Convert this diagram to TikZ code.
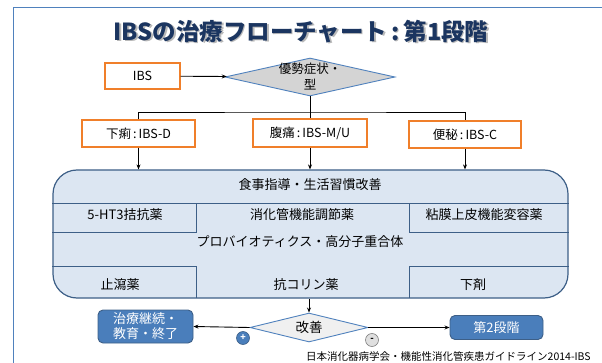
\documentclass[tikz,border=0pt]{standalone}
\usepackage{fontspec}
\setmainfont{Noto Sans CJK JP}
\usetikzlibrary{shapes.geometric,arrows.meta}
\definecolor{frameblue}{HTML}{4F81BD}
\definecolor{orangeb}{HTML}{F07F2A}
\definecolor{diagray}{HTML}{D4D4D4}
\definecolor{bigfill}{HTML}{DCE6F2}
\definecolor{bigline}{HTML}{3D5F87}
\definecolor{titlecol}{HTML}{1B3560}
\definecolor{btnblue}{HTML}{4A7EBB}
\tikzset{
  obox/.style={draw=orangeb, line width=1.2pt, fill=white, inner sep=0pt, font=\fontsize{12.5}{14}\selectfont},
  arr/.style={-{Stealth[length=5pt,width=4pt]}, line width=0.9pt},
  ln/.style={line width=0.9pt},
  cell/.style={bigline, line width=0.8pt},
  intext/.style={font=\fontsize{13}{15}\selectfont, inner sep=0pt},
  bbox/.style={draw=bigline, fill=btnblue, rounded corners=5pt, text=white, line width=0.9pt, inner sep=0pt, font=\fontsize{13}{15}\selectfont, align=center}
}
\begin{document}
\begin{tikzpicture}[x=1pt,y=-1pt]
\useasboundingbox (0,0) rectangle (602,363);
% frame
\draw[frameblue, line width=0.9pt] (13,363) -- (13,7) -- (602,7);
% title
\node[text=gray!55, font=\fontsize{23.5}{26}\selectfont\bfseries, inner sep=0pt] at (302.5,33) {IBSの治療フローチャート\,:\,第1段階};
\node[text=titlecol, font=\fontsize{23.5}{26}\selectfont\bfseries, inner sep=0pt] (title) at (301,31.5) {IBSの治療フローチャート\,:\,第1段階};
% top
\node[obox, minimum width=75pt, minimum height=26pt] (ibs) at (142.5,76) {IBS};
\node[diamond, draw=frameblue, fill=diagray, line width=0.9pt, minimum width=170pt, minimum height=38pt, inner sep=0pt,
  label={[align=center, font=\fontsize{12.5}{16}\selectfont]center:優勢症状・\\型}] (d1) at (310,77) {};
\draw[arr] (ibs) -- (d1);
% three types
\node[obox, minimum width=113pt, minimum height=27pt] (b1) at (138.5,133.5) {下痢\,:\,IBS-D};
\node[obox, minimum width=114pt, minimum height=28pt] (b2) at (310,133) {腹痛\,:\,IBS-M/U};
\node[obox, minimum width=112pt, minimum height=27pt] (b3) at (465,134.5) {便秘\,:\,IBS-C};
\coordinate (bar) at (309,112);
\draw[ln] (d1.south) -- (b2.north);
\draw[ln] (b1.north) |- (bar) -| (b3.north);
% big box
\node[draw=bigline, fill=bigfill, line width=1.2pt, rounded corners=24pt, minimum width=515pt, minimum height=128pt, inner sep=0pt] (big) at (310.5,234) {};
\draw[arr] (b1.south) -- (b1.south |- big.north);
\draw[arr] (b2.south) -- (b2.south |- big.north);
\draw[arr] (b3.south) -- (b3.south |- big.north);
% cells
\draw[cell] (big.west |- 0,203) -- (big.east |- 0,203);
\draw[cell] (big.west |- 0,232) -- (196,232) -- (196,203);
\draw[cell] (big.east |- 0,232) -- (409,232) -- (409,203);
\draw[cell] (big.west |- 0,266) -- (196,266) -- (196,298);
\draw[cell] (big.east |- 0,266) -- (409,266) -- (409,298);
\node[intext] (t1) at (310,185) {食事指導・生活習慣改善};
\node[intext] (t2) at (125,215) {5-HT3拮抗薬};
\node[intext] (t3) at (302,215) {消化管機能調節薬};
\node[intext] (t4) at (484,215) {粘膜上皮機能変容薬};
\node[intext] (t5) at (300,242) {プロバイオティクス・高分子重合体};
\node[intext] (t6) at (120,285) {止瀉薬};
\node[intext] (t7) at (306,285) {抗コリン薬};
\node[intext] (t8) at (473,285) {下剤};
% bottom
\node[diamond, draw=frameblue, fill=gray!12, line width=0.9pt, minimum width=118pt, minimum height=29pt, inner sep=0pt,
  label={[font=\fontsize{13.5}{15}\selectfont]center:改善}] (d2) at (309,327.5) {};
\draw[arr] (d2.north |- big.south) -- (d2.north);
\node[bbox, minimum width=95pt, minimum height=33pt] (cont) at (145.5,326.5) {治療継続・\\教育・終了};
\node[bbox, minimum width=93pt, minimum height=24pt] (st2) at (496.5,327.5) {第2段階};
\draw[arr] (d2.west) -- (cont.east);
\draw[arr] (d2.east) -- (st2.west);
\node[circle, draw=bigline, fill=btnblue, text=white, minimum size=13pt, inner sep=0pt, line width=0.6pt, font=\fontsize{9}{9}\selectfont\bfseries] (plus) at (243,338) {+};
\node[circle, draw=gray, fill=gray!25, minimum size=13pt, inner sep=0pt, line width=0.6pt, font=\fontsize{9}{9}\selectfont\bfseries] (minus) at (372,340) {-};
% footer
\node[anchor=west, inner sep=0pt, font=\fontsize{10.5}{12}\selectfont] (foot) at (306,356.5) {日本消化器病学会・機能性消化管疾患ガイドライン2014-IBS};
\end{tikzpicture}
\end{document}
